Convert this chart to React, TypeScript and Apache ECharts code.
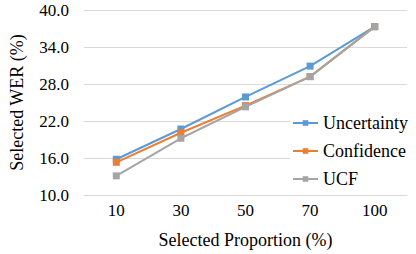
import React, { useEffect, useRef } from "react";
import * as echarts from "echarts";

const categories = ["10", "30", "50", "70", "100"];
const uncertainty = [15.8, 20.7, 25.9, 30.9, 37.3];
const confidence = [15.3, 20.1, 24.5, 29.2, 37.3];
const ucf = [13.1, 19.2, 24.3, 29.2, 37.3];

const FONT = "Liberation Serif";

export default function App() {
  const ref = useRef<HTMLDivElement>(null);
  useEffect(() => {
    const chart = echarts.init(ref.current!, null, { renderer: "svg" });
    const mk = (name: string, data: number[], color: string) => ({
      name,
      type: "line",
      data,
      symbol: "rect",
      symbolSize: 7,
      lineStyle: { color, width: 2 },
      itemStyle: { color },
      z: name === "Uncertainty" ? 3 : name === "Confidence" ? 4 : 5,
    });
    chart.setOption({
      animation: false,
      textStyle: { fontFamily: FONT },
      grid: { left: 77, right: 9, top: 10, bottom: 59 },
      legend: {
        orient: "vertical",
        left: 290,
        top: 112,
        itemGap: 10,
        itemWidth: 25,
        itemHeight: 7,
        backgroundColor: "#ffffff",
        padding: [2, 4, 2, 2],
        textStyle: { fontFamily: FONT, fontSize: 18, color: "#000" },
        data: ["Uncertainty", "Confidence", "UCF"],
      },
      xAxis: {
        type: "category",
        data: categories,
        boundaryGap: true,
        name: "Selected Proportion (%)",
        nameLocation: "middle",
        nameGap: 36,
        nameTextStyle: { fontFamily: FONT, fontSize: 18, color: "#000" },
        axisLine: { show: true, lineStyle: { color: "#d9d9d9", width: 1 } },
        axisTick: { show: false },
        axisLabel: { fontFamily: FONT, fontSize: 17, color: "#000", margin: 7 },
      },
      yAxis: {
        type: "value",
        min: 10,
        max: 40,
        interval: 6,
        name: "Selected WER (%)",
        nameLocation: "middle",
        nameGap: 58,
        nameTextStyle: { fontFamily: FONT, fontSize: 18, color: "#000" },
        axisLine: { show: false },
        axisTick: { show: false },
        axisLabel: {
          fontFamily: FONT,
          fontSize: 17,
          color: "#000",
          margin: 15,
          formatter: (v: number) => v.toFixed(1),
        },
        splitLine: { lineStyle: { color: "#d9d9d9", width: 1 } },
      },
      series: [
        mk("Uncertainty", uncertainty, "#5b9bd5"),
        mk("Confidence", confidence, "#ed7d31"),
        mk("UCF", ucf, "#a5a5a5"),
      ],
    });
    return () => chart.dispose();
  }, []);
  return <div ref={ref} style={{ width: 416, height: 254, position: "absolute", left: 0, top: 0, background: "#fff" }} />;
}
